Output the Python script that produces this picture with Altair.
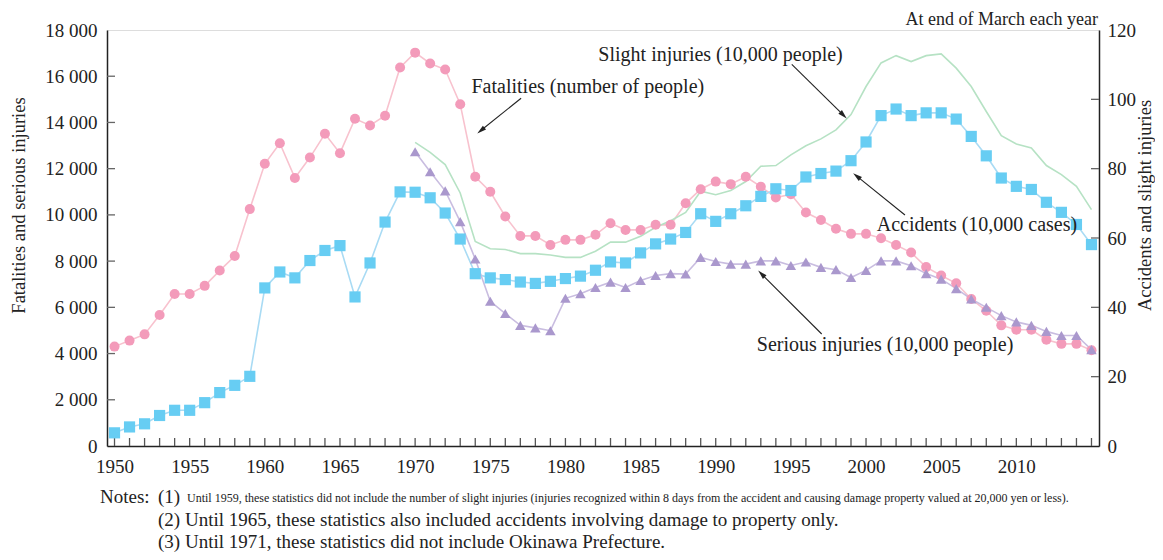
import math
import altair as alt
import pandas as pd

# ---------------- data ----------------
years = list(range(1950, 2016))
fatalities = [4300, 4560, 4830, 5670, 6580, 6580, 6930, 7590, 8220, 10250,
              12210, 13100, 11600, 12480, 13510, 12670, 14160, 13870, 14290, 16380,
              17020, 16550, 16290, 14790, 11650, 11000, 9930, 9090, 9090, 8700,
              8920, 8920, 9140, 9640, 9350, 9350, 9570, 9570, 10500, 11110,
              11440, 11330, 11650, 11220, 10750, 10890, 10100, 9780, 9400, 9180,
              9180, 8990, 8700, 8370, 7740, 7380, 7040, 6360, 5850, 5220,
              5030, 5030, 4600, 4420, 4420, 4140]
accidents = [3.8, 5.5, 6.4, 8.8, 10.3, 10.3, 12.5, 15.4, 17.5, 20.1,
             45.6, 50.2, 48.5, 53.5, 56.4, 57.8, 43.0, 52.8, 64.6, 73.3,
             73.2, 71.6, 67.2, 59.7, 49.7, 48.5, 48.0, 47.3, 46.9, 47.5,
             48.3, 49.0, 50.7, 53.1, 52.8, 55.7, 58.3, 59.7, 61.6, 67.0,
             64.8, 67.0, 69.3, 72.0, 74.2, 73.7, 77.6, 78.6, 79.3, 82.3,
             87.7, 95.3, 97.2, 95.3, 96.1, 96.1, 94.3, 89.3, 83.7, 77.3,
             74.9, 74.0, 70.3, 67.4, 63.9, 58.1]
inj_years = list(range(1970, 2016))
serious = [12730, 11870, 11040, 9710, 8090, 6260, 5730, 5220, 5110, 4990,
           6390, 6590, 6860, 7090, 6860, 7160, 7380, 7460, 7440, 8160,
           7980, 7870, 7870, 8010, 8010, 7810, 7960, 7730, 7630, 7290,
           7600, 8010, 8010, 7800, 7460, 7220, 6810, 6360, 6000, 5640,
           5370, 5220, 4960, 4780, 4780, 4170]
slight = [87.6, 84.7, 81.2, 73.0, 59.0, 56.9, 56.7, 55.5, 55.5, 55.1,
          54.4, 54.4, 56.2, 58.8, 58.8, 60.5, 63.1, 65.0, 67.4, 73.5,
          72.5, 73.7, 76.3, 80.7, 80.9, 84.0, 86.6, 88.6, 91.2, 95.6,
          103.7, 110.5, 112.6, 110.9, 112.6, 113.1, 109.0, 103.7, 96.5, 89.5,
          87.1, 86.0, 80.9, 78.3, 74.9, 68.2]

left_ticks = list(range(0, 18001, 2000))
right_ticks = list(range(0, 121, 20))
x_label_years = list(range(1950, 2011, 5))

# annotations: label, text position (year, left-scale value), arrow start, arrow end
ann_labels = ["Fatalities (number of people)", "Slight injuries (10,000 people)",
              "Accidents (10,000 cases)", "Serious injuries (10,000 people)"]
ann_text_year = [1973.75, 1982.19, 2000.71, 1992.73]
ann_text_val = [15546, 16918, 9562, 4370]
arrow_from_year = [1977.05, 1995.06, 2002.59, 1997.05]
arrow_from_val = [15045, 16515, 9995, 4846]
arrow_to_year = [1974.14, 1998.71, 1999.15, 1992.83]
arrow_to_val = [13530, 14179, 11800, 7585]

note1_head = "Notes:"
note1_num = "(1)"
note1_body = ("Until 1959, these statistics did not include the number of slight injuries "
              "(injuries recognized within 8 days from the accident and causing damage "
              "property valued at 20,000 yen or less).")
note2 = "(2) Until 1965, these statistics also included accidents involving damage to property only."
note3 = "(3) Until 1971, these statistics did not include Okinawa Prefecture."
top_note = "At end of March each year"

# ---------------- layout ----------------
W, H = 992, 416
X_DOMAIN = [1949.5, 2015.5]
Y_LEFT = [0, 18000]
Y_RIGHT = [0, 120]
FONT = "Liberation Serif"
INK = "#222222"

xs = alt.Scale(domain=X_DOMAIN, nice=False, zero=False)
yl = alt.Scale(domain=Y_LEFT, nice=False, zero=True)
yr = alt.Scale(domain=Y_RIGHT, nice=False, zero=True)

bottom_axis = alt.Axis(orient="bottom", values=x_label_years, format="d", ticks=False,
                       grid=False, labelFontSize=19, labelPadding=11, labelFlush=False,
                       domainColor=INK, domainWidth=1.5, title=None, labelColor=INK)
left_axis = alt.Axis(orient="left", values=left_ticks, ticks=False, grid=False,
                     labelExpr="replace(format(datum.value, ',d'), ',', ' ')",
                     labelFontSize=19, labelPadding=10, labelFlush=False, labelColor=INK,
                     domainColor=INK, domainWidth=1.5,
                     title="Fatalities and serious injuries", titleFontSize=18.5,
                     titleFontWeight="normal", titleColor=INK, titleAngle=270,
                     titleX=-89, titleY=175, titleBaseline="middle", titleAlign="center")
right_axis = alt.Axis(orient="right", values=right_ticks, ticks=False, grid=False,
                      labelFontSize=19, labelPadding=8, labelFlush=False, labelColor=INK,
                      domainColor=INK, domainWidth=1.5,
                      title="Accidents and slight injuries", titleFontSize=18.5,
                      titleFontWeight="normal", titleColor=INK, titleAngle=270,
                      titleX=45, titleY=175, titleBaseline="middle", titleAlign="center")

df_main = pd.DataFrame({"year": years, "fatalities": fatalities, "accidents": accidents})
df_inj = pd.DataFrame({"year": inj_years, "serious": serious, "slight": slight})

base_main = alt.Chart(df_main)
base_inj = alt.Chart(df_inj)

fat_line = base_main.mark_line(color="#f8c2ce", strokeWidth=1.6).encode(
    x=alt.X("year:Q", scale=xs, axis=bottom_axis),
    y=alt.Y("fatalities:Q", scale=yl, axis=left_axis))
acc_line = base_main.mark_line(color="#a9dbf4", strokeWidth=1.6).encode(
    x=alt.X("year:Q", scale=xs, axis=None),
    y=alt.Y("accidents:Q", scale=yr, axis=right_axis))
ser_line = base_inj.mark_line(color="#c9bde0", strokeWidth=1.6).encode(
    x=alt.X("year:Q", scale=xs, axis=None),
    y=alt.Y("serious:Q", scale=yl, axis=None))
sl_line = base_inj.mark_line(color="#b6e2c4", strokeWidth=1.6).encode(
    x=alt.X("year:Q", scale=xs, axis=None),
    y=alt.Y("slight:Q", scale=yr, axis=None))

fat_pts = base_main.mark_point(shape="circle", filled=True, size=100, opacity=1,
                               color="#f39bba").encode(
    x=alt.X("year:Q", scale=xs, axis=None),
    y=alt.Y("fatalities:Q", scale=yl, axis=None))
acc_pts = base_main.mark_point(shape="square", filled=True, size=125, opacity=1,
                               color="#67cdf3").encode(
    x=alt.X("year:Q", scale=xs, axis=None),
    y=alt.Y("accidents:Q", scale=yr, axis=None))
ser_pts = base_inj.mark_point(shape="triangle-up", filled=True, size=110, opacity=1,
                              color="#aa98cd").encode(
    x=alt.X("year:Q", scale=xs, axis=None),
    y=alt.Y("serious:Q", scale=yl, axis=None))

# inward ticks
lt = alt.Chart(pd.DataFrame({"v": left_ticks[1:-1]})).mark_rule(
    color="#666666", strokeWidth=1.3).encode(
    y=alt.Y("v:Q", scale=yl, axis=None), x=alt.value(0), x2=alt.value(8))
rt = alt.Chart(pd.DataFrame({"v": right_ticks[1:-1]})).mark_rule(
    color="#666666", strokeWidth=1.3).encode(
    y=alt.Y("v:Q", scale=yr, axis=None), x=alt.value(W - 8), x2=alt.value(W))
bt = alt.Chart(pd.DataFrame({"year": years})).mark_rule(
    color="#555555", strokeWidth=1.3).encode(
    x=alt.X("year:Q", scale=xs, axis=None), y=alt.value(H - 8), y2=alt.value(H))

# annotations
px_per_year = W / (X_DOMAIN[1] - X_DOMAIN[0])
px_per_val = H / (Y_LEFT[1] - Y_LEFT[0])
head_year, head_val, head_ang = [], [], []
HEAD_BACK = 4.5
for fy, fv, ty, tv in zip(arrow_from_year, arrow_from_val, arrow_to_year, arrow_to_val):
    dx = (ty - fy) * px_per_year
    dy = -(tv - fv) * px_per_val
    L = math.hypot(dx, dy)
    ux, uy = dx / L, dy / L
    head_year.append(ty - ux * HEAD_BACK / px_per_year)
    head_val.append(tv + uy * HEAD_BACK / px_per_val)
    head_ang.append(math.degrees(math.atan2(dx, -dy)) % 360)

df_ann = pd.DataFrame({"label": ann_labels, "ty": ann_text_year, "tv": ann_text_val,
                       "fy": arrow_from_year, "fv": arrow_from_val,
                       "hy": head_year, "hv": head_val, "ang": head_ang})
ann_text = alt.Chart(df_ann).mark_text(align="left", baseline="middle", fontSize=20,
                                       font=FONT, color=INK).encode(
    x=alt.X("ty:Q", scale=xs, axis=None), y=alt.Y("tv:Q", scale=yl, axis=None),
    text="label:N")
ann_rule = alt.Chart(df_ann).mark_rule(color=INK, strokeWidth=1.1).encode(
    x=alt.X("fy:Q", scale=xs, axis=None), y=alt.Y("fv:Q", scale=yl, axis=None),
    x2="hy:Q", y2="hv:Q")
ann_head = alt.Chart(df_ann).mark_point(shape="M0,-1L0.55,1L-0.55,1Z", filled=True,
                                        size=85, opacity=1, color=INK).encode(
    x=alt.X("hy:Q", scale=xs, axis=None), y=alt.Y("hv:Q", scale=yl, axis=None),
    angle=alt.Angle("ang:Q", scale=None))

# free texts (pixel-placed, relative to the plot area)
def free_text(txt, px, py, size, align="left"):
    return alt.Chart(pd.DataFrame({"t": [txt]})).mark_text(
        align=align, baseline="middle", fontSize=size, font=FONT, color=INK).encode(
        x=alt.value(px), y=alt.value(py), text="t:N")

texts = [
    free_text(top_note, W - 1, -10, 18, align="right"),
    free_text(note1_head, -7, 467, 19),
    free_text(note1_num, 51, 467, 19),
    free_text(note1_body, 80, 468, 12),
    free_text(note2, 51, 490, 19),
    free_text(note3, 51, 512, 19),
]

chart = alt.layer(
    fat_line, acc_line, ser_line, sl_line,
    lt, rt, bt,
    fat_pts, acc_pts, ser_pts,
    ann_rule, ann_head, ann_text,
    *texts,
).resolve_scale(y="independent").resolve_axis(x="independent", y="independent").properties(
    width=W, height=H,
    autosize=alt.AutoSizeParams(type="none"),
    padding={"left": 99, "top": 22, "right": 56, "bottom": 106},
).configure_view(
    stroke="#555555", strokeWidth=1
).configure(font=FONT)

chart.save("out.html", embed_options={"renderer": "svg", "actions": False})
